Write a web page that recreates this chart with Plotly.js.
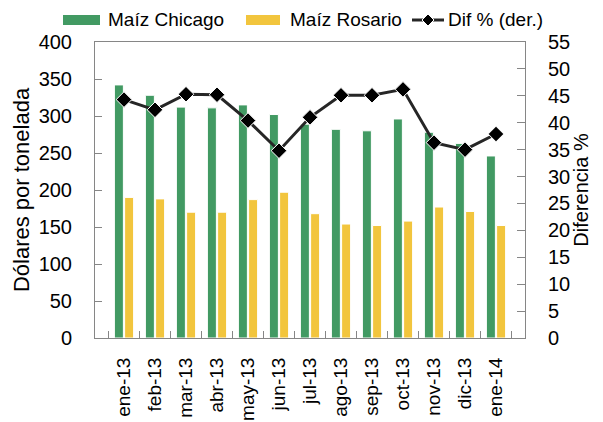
<!DOCTYPE html>
<html>
<head>
<meta charset="utf-8">
<script src="https://cdn.plot.ly/plotly-3.0.1.min.js"></script>
<style>html,body{margin:0;padding:0;background:#fff}#chart{width:603px;height:422px}</style>
</head>
<body>
<div id="chart"></div>
<script>
const months = ["ene-13","feb-13","mar-13","abr-13","may-13","jun-13","jul-13","ago-13","sep-13","oct-13","nov-13","dic-13","ene-14"];
const maizChicago = [342, 328, 312, 311, 315, 302, 289, 282, 280, 296, 278, 263, 246];
const maizRosario = [190, 188, 170, 170, 187, 197, 168, 154, 152, 158, 177, 171, 152];
const difPct = [44.3, 42.4, 45.3, 45.2, 40.4, 34.8, 41.0, 45.1, 45.1, 46.2, 36.3, 35.0, 37.9];
const seriesNames = ["Maíz Chicago", "Maíz Rosario", "Dif % (der.)"];

const FONT = "Liberation Sans, Arial, sans-serif";
const AXC = "#868686";
const GREEN = "#429A63", YELLOW = "#F2C53D", LINEC = "#262626";

const M = {l:95, r:78, t:42, b:84};
const W = 603, H = 422;
const PW = W - M.l - M.r, PH = H - M.t - M.b;
const px = v => (v - M.l) / PW;      // pixel x -> paper
const py = v => (H - M.b - v) / PH;  // pixel y -> paper

const traces = [
  {type:"bar", name:seriesNames[0], x:months, y:maizChicago,
   marker:{color:GREEN, line:{color:"#ffffff", width:1}}},
  {type:"bar", name:seriesNames[1], x:months, y:maizRosario,
   marker:{color:YELLOW, line:{color:"#ffffff", width:1}}},
  {type:"scatter", mode:"lines+markers", name:seriesNames[2], x:months, y:difPct, yaxis:"y2",
   line:{color:LINEC, width:3},
   marker:{symbol:"diamond", size:12, color:"#000000", line:{color:"#ffffff", width:1}}}
];

// custom legend (wide swatches like the original)
const LY = 20;
const shapes = [
  {type:"rect", xref:"paper", yref:"paper", x0:px(63), x1:px(100), y0:py(LY+5), y1:py(LY-5),
   fillcolor:GREEN, line:{width:0}},
  {type:"rect", xref:"paper", yref:"paper", x0:px(246), x1:px(280), y0:py(LY+5), y1:py(LY-5),
   fillcolor:YELLOW, line:{width:0}},
  {type:"line", xref:"paper", yref:"paper", x0:px(412), x1:px(444), y0:py(LY), y1:py(LY),
   line:{color:LINEC, width:3}},
  {type:"path", xref:"paper", yref:"paper", xsizemode:"pixel", ysizemode:"pixel",
   xanchor:px(428), yanchor:py(LY), path:"M-6,0 L0,6 L6,0 L0,-6 Z",
   fillcolor:"#000000", line:{color:"#ffffff", width:1}}
];
const annotations = [
  {text:seriesNames[0], x:px(106), xanchor:"left"},
  {text:seriesNames[1], x:px(288), xanchor:"left"},
  {text:seriesNames[2], x:px(446), xanchor:"left"}
].map(a => Object.assign({xref:"paper", yref:"paper", y:py(LY), yanchor:"middle",
  showarrow:false, font:{family:FONT, size:19, color:"#000"}}, a));

const layout = {
  width:W, height:H,
  margin:M,
  paper_bgcolor:"#ffffff", plot_bgcolor:"#ffffff",
  font:{family:FONT, size:20, color:"#000000"},
  barmode:"group", bargap:0.34, bargroupgap:0.12,
  showlegend:false,
  shapes:shapes, annotations:annotations,
  xaxis:{type:"category", showline:true, linecolor:AXC, linewidth:1, mirror:true,
         ticks:"inside", ticklen:7, tickcolor:AXC, tickson:"boundaries",
         tickangle:-90, ticklabelstandoff:11, showgrid:false, zeroline:false,
         tickfont:{size:19}, automargin:false},
  yaxis:{range:[0,400], dtick:50, showline:true, linecolor:AXC, linewidth:1,
         ticks:"inside", ticklen:7, tickcolor:AXC, showgrid:false, zeroline:false,
         ticklabelstandoff:18, tickfont:{size:20}, automargin:false,
         title:{text:"Dólares por tonelada", font:{size:22}, standoff:2}},
  yaxis2:{range:[0,55], dtick:5, overlaying:"y", side:"right", showline:true,
          linecolor:AXC, linewidth:1, ticks:"inside", ticklen:8, tickcolor:AXC,
          showgrid:false, zeroline:false, ticklabelstandoff:18, tickfont:{size:20},
          automargin:false,
          title:{text:"Diferencia %", font:{size:20}, standoff:4}}
};

Plotly.newPlot("chart", traces, layout, {displayModeBar:false, staticPlot:true});
</script>
</body>
</html>
